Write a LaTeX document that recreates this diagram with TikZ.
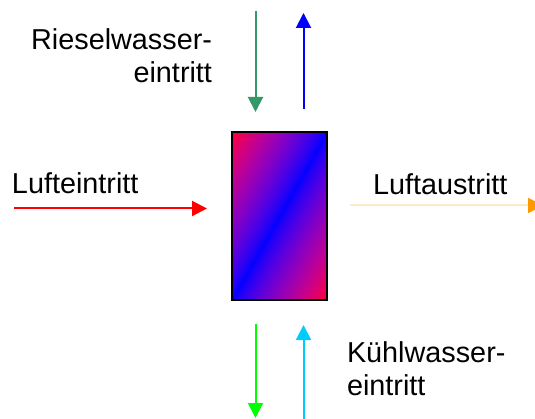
\documentclass[tikz,border=0pt]{standalone}
\usepackage{fontspec}
\setmainfont{Liberation Sans}
\usetikzlibrary{arrows.meta}
\pgfdeclarefunctionalshading{diagrb}{\pgfpoint{0bp}{0bp}}{\pgfpoint{100bp}{100bp}}{}{sub abs 50 div dup 1 gt {pop 1} if dup 0.75 exp exch 0 exch 0.98 mul 1 exch sub sqrt}
\definecolor{rwgreen}{RGB}{51,153,102}
\definecolor{kwgreen}{RGB}{0,255,0}
\definecolor{kwcyan}{RGB}{0,204,255}
\definecolor{palelight}{RGB}{255,233,204}
\definecolor{outorange}{RGB}{255,153,0}
\tikzset{
  flow/.style={line width=2pt, -{Triangle[length=15pt,width=15pt]}},
  lbl/.style={font=\fontsize{28.8}{33}\selectfont, inner sep=0pt, outer sep=0pt},
  hxbox/.style={draw=black, line width=2pt, shade, shading=diagrb, minimum width=95pt, minimum height=168pt, inner sep=0pt, outer sep=0pt}
}
\begin{document}
\begin{tikzpicture}[x=1pt,y=-1pt]
\useasboundingbox (0,0) rectangle (535,419);
\node[hxbox] (hx) at (279.5,216) {};
% coordinates for arrow ends
\coordinate (rwA) at (255.5,11);
\coordinate (rwB) at (255.5,112);
\coordinate (blA) at (303.5,109);
\coordinate (blB) at (303.5,13);
\coordinate (liA) at (14,208.5);
\coordinate (liB) at (207,208.5);
\coordinate (loA) at (350,205.5);
\coordinate (loB) at (543,205.5);
\coordinate (kgA) at (255.5,324);
\coordinate (kgB) at (255.5,418);
\coordinate (kcA) at (303.5,420);
\coordinate (kcB) at (303.5,325);
\draw[flow, rwgreen] (rwA) -- (rwB);
\draw[flow, blue] (blA) -- (blB);
\draw[flow, red] (liA) -- (liB);
\draw[line width=2pt, palelight, -{Triangle[length=15pt,width=15pt,color=outorange]}] (loA) -- (loB);
\draw[flow, kwgreen] (kgA) -- (kgB);
\draw[flow, kwcyan] (kcA) -- (kcB);
% labels
\node[lbl, anchor=base west] (tli) at (12,194) {Lufteintritt};
\node[lbl, anchor=base west] (tlo) at (373,195) {Luftaustritt};
\node[lbl, align=right, anchor=base east] (trw) at (212,83) {Rieselwasser-\\eintritt};
\node[lbl, align=left, anchor=base west] (tkw) at (347,395) {Kühlwasser-\\eintritt};
\end{tikzpicture}
\end{document}
